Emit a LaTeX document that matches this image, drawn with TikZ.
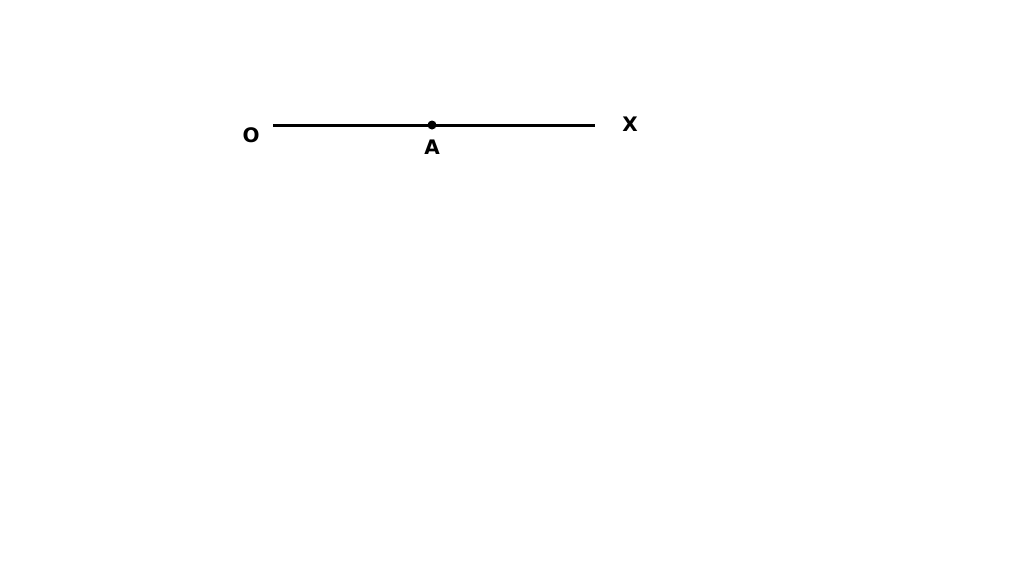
\documentclass[tikz,border=0pt]{standalone}
\usepackage{fontspec}
\setmainfont{DejaVu Sans}
\begin{document}
\begin{tikzpicture}[x=1pt,y=-1pt,
  lbl/.style={font=\fontsize{20}{22}\selectfont\bfseries, inner sep=0pt},
  ray/.style={line width=3pt}]
\useasboundingbox[fill=white] (0,0) rectangle (1024,587);
\coordinate (s) at (273,125);
\coordinate (e) at (595,125);
\coordinate (a) at (432,125);
\draw[ray] (s) -- (e);
\fill (a) circle (4.5);
\node[lbl] (O) at (251,135) {O};
\node[lbl] (A) at (432,147) {A};
\node[lbl] (X) at (630,124) {X};
\end{tikzpicture}
\end{document}
